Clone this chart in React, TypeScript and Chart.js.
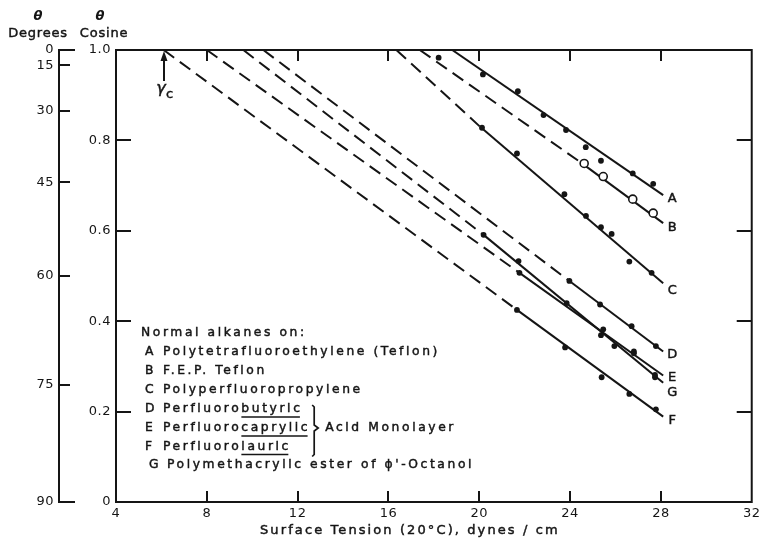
import React, { useEffect, useRef } from 'react';
import { Chart, registerables } from 'chart.js';

Chart.register(...registerables);

// ---------- axes ----------
const xTickValues = [4, 8, 12, 16, 20, 24, 28, 32];
const cosTickValues = [0, 0.2, 0.4, 0.6, 0.8, 1.0];
const degTickValues = [0, 15, 30, 45, 60, 75, 90];

// ---------- measured points (surface tension, cos θ) ----------
const ptsAx = [18.21, 20.16, 21.7, 22.83, 23.82, 24.69, 25.36, 26.76, 27.66];
const ptsAy = [0.983, 0.946, 0.909, 0.856, 0.823, 0.785, 0.755, 0.727, 0.704];
const ptsBx = [24.62, 25.46, 26.76, 27.66];
const ptsBy = [0.749, 0.72, 0.67, 0.639];
const ptsCx = [20.12, 21.66, 23.75, 24.7, 25.36, 25.83, 26.61, 27.59];
const ptsCy = [0.828, 0.771, 0.681, 0.633, 0.608, 0.593, 0.532, 0.507];
const ptsDx = [23.97, 25.32, 26.71, 27.78];
const ptsDy = [0.489, 0.437, 0.389, 0.345];
const ptsEx = [21.77, 25.36, 25.95, 26.81, 27.74];
const ptsEy = [0.507, 0.369, 0.345, 0.329, 0.281];
const ptsFx = [21.66, 23.78, 25.39, 26.61, 27.78];
const ptsFy = [0.425, 0.342, 0.276, 0.239, 0.205];
const ptsGx = [20.19, 21.73, 23.85, 25.46, 26.81, 27.74];
const ptsGy = [0.591, 0.533, 0.44, 0.382, 0.333, 0.276];

// ---------- drawn lines (first segment dashed when 3 points) ----------
const lineAx = [18.81, 28.1];
const lineAy = [1.0, 0.679];
const lineBx = [17.38, 24.45, 28.1];
const lineBy = [1.0, 0.752, 0.617];
const lineCx = [16.35, 20.04, 28.1];
const lineCy = [1.0, 0.83, 0.484];
const lineDx = [10.49, 23.97, 28.1];
const lineDy = [1.0, 0.489, 0.333];
const lineEx = [8.0, 21.77, 28.1];
const lineEy = [1.0, 0.507, 0.28];
const lineFx = [6.1, 21.66, 28.1];
const lineFy = [1.0, 0.425, 0.189];
const lineGx = [9.61, 20.19, 28.1];
const lineGy = [1.0, 0.591, 0.264];

const gammaC = 6.1;

// ---------- texts ----------
const legendTitle = 'Normal alkanes on:';
const legendLetters = ['A', 'B', 'C', 'D', 'E', 'F', 'G'];
const legendPrefix = [
  'Polytetrafluoroethylene (Teflon)',
  'F.E.P. Teflon',
  'Polyperfluoropropylene',
  'Perfluoro',
  'Perfluoro',
  'Perfluoro',
  "Polymethacrylic ester of \u03D5'-Octanol",
];
const legendSuffix = ['', '', '', 'butyric', 'caprylic', 'lauric', ''];
const bracketText = 'Acid Monolayer';
const xTitle = 'Surface Tension (20\u00B0C), dynes / cm';

// ---------- style ----------
const INK = '#151515';
const FONT = '"DejaVu Sans", "Liberation Sans", sans-serif';
const DASH = [13, 7];
const endLabelDy: Record<string, number> = { A: 4, B: 5, C: 7, D: 3, E: 2, F: 4, G: 10 };
const legendRowsY = [333, 352, 371, 390, 409, 428, 446.5, 465];

const toXY = (xs: number[], ys: number[]) => xs.map((x, i) => ({ x, y: ys[i] }));

function lineSet(xs: number[], ys: number[]) {
  const dashedFirst = xs.length > 2;
  return {
    data: toXY(xs, ys),
    showLine: true,
    borderColor: INK,
    borderWidth: 2,
    pointRadius: 0,
    pointHoverRadius: 0,
    fill: false,
    tension: 0,
    segment: {
      borderDash: (c: any) => (dashedFirst && c.p0DataIndex === 0 ? DASH : undefined),
    },
  };
}

function pointSet(xs: number[], ys: number[], open = false) {
  return {
    data: toXY(xs, ys),
    showLine: false,
    pointRadius: open ? 4 : 2.9,
    pointHoverRadius: open ? 4 : 2.9,
    pointBackgroundColor: open ? '#ffffff' : INK,
    pointBorderColor: INK,
    pointBorderWidth: open ? 1.6 : 0,
  };
}

const seriesLines: [string, number[], number[]][] = [
  ['A', lineAx, lineAy],
  ['B', lineBx, lineBy],
  ['C', lineCx, lineCy],
  ['D', lineDx, lineDy],
  ['E', lineEx, lineEy],
  ['F', lineFx, lineFy],
  ['G', lineGx, lineGy],
];

// fill + thin stroke to imitate the pen-lettering weight
function inkText(ctx: CanvasRenderingContext2D, t: string, x: number, y: number) {
  ctx.fillText(t, x, y);
  ctx.save();
  ctx.lineWidth = 0.45;
  ctx.strokeText(t, x, y);
  ctx.restore();
}

const overlay = {
  id: 'overlay',
  beforeDraw(chart: any) {
    chart.ctx.letterSpacing = '0.5px';
  },
  afterDraw(chart: any) {
    const { ctx, chartArea: ca } = chart;
    const sx = chart.scales.x;
    const sy = chart.scales.y;
    const sd = chart.scales.yDeg;
    ctx.save();
    ctx.strokeStyle = INK;
    ctx.fillStyle = INK;
    ctx.lineWidth = 2;

    // frame top & right
    ctx.beginPath();
    ctx.moveTo(ca.left - 1, ca.top);
    ctx.lineTo(ca.right, ca.top);
    ctx.lineTo(ca.right, ca.bottom + 1);
    ctx.stroke();

    // inward tick marks
    ctx.beginPath();
    xTickValues.slice(1, -1).forEach((v) => {
      const p = Math.round(sx.getPixelForValue(v));
      ctx.moveTo(p, ca.bottom);
      ctx.lineTo(p, ca.bottom - 11);
      ctx.moveTo(p, ca.top);
      ctx.lineTo(p, ca.top + 11);
    });
    cosTickValues.slice(1, -1).forEach((v) => {
      const p = Math.round(sy.getPixelForValue(v));
      ctx.moveTo(ca.left, p);
      ctx.lineTo(ca.left + 15, p);
      ctx.moveTo(ca.right, p);
      ctx.lineTo(ca.right - 15, p);
    });
    degTickValues.forEach((d, i) => {
      const p = Math.round(sd.getPixelForValue(Math.cos((d * Math.PI) / 180)));
      const L = i === 0 || i === degTickValues.length - 1 ? 16 : 11;
      ctx.moveTo(sd.right, p);
      ctx.lineTo(sd.right + L, p);
    });
    ctx.stroke();

    // headers
    ctx.textAlign = 'center';
    ctx.textBaseline = 'middle';
    ctx.letterSpacing = '0px';
    ctx.font = `italic bold 13px ${FONT}`;
    ctx.fillText('\u03B8', 38, 17);
    ctx.fillText('\u03B8', 100, 17);
    ctx.letterSpacing = '0.8px';
    ctx.font = `13px ${FONT}`;
    inkText(ctx, 'Degrees', 38, 34);
    inkText(ctx, 'Cosine', 104, 34);

    // x title
    ctx.textAlign = 'left';
    ctx.letterSpacing = '2.1px';
    ctx.font = `13px ${FONT}`;
    inkText(ctx, xTitle, 260, 531);

    // gamma c arrow
    const gx = Math.round(sx.getPixelForValue(gammaC));
    ctx.beginPath();
    ctx.moveTo(gx, ca.top + 31);
    ctx.lineTo(gx, ca.top + 8);
    ctx.stroke();
    ctx.beginPath();
    ctx.moveTo(gx, ca.top + 1);
    ctx.lineTo(gx - 3.5, ca.top + 11);
    ctx.lineTo(gx + 3.5, ca.top + 11);
    ctx.closePath();
    ctx.fill();
    ctx.letterSpacing = '0px';
    ctx.textBaseline = 'alphabetic';
    ctx.textAlign = 'center';
    ctx.font = `italic 16px ${FONT}`;
    inkText(ctx, '\u03B3', gx - 3, ca.top + 43);
    ctx.font = `13px ${FONT}`;
    ctx.textAlign = 'left';
    inkText(ctx, 'c', gx + 2, ca.top + 48);

    // end labels
    ctx.textAlign = 'center';
    ctx.textBaseline = 'middle';
    ctx.font = `13px ${FONT}`;
    seriesLines.forEach(([name, xs, ys]) => {
      const ex = sx.getPixelForValue(xs[xs.length - 1]);
      const ey = sy.getPixelForValue(ys[ys.length - 1]);
      inkText(ctx, name, ex + 9, ey + endLabelDy[name]);
    });

    // legend block
    const sp = 2.6;
    ctx.font = `12.3px ${FONT}`;
    ctx.textAlign = 'left';
    ctx.letterSpacing = sp + 'px';
    inkText(ctx, legendTitle, 141, legendRowsY[0]);
    let maxEnd = 0;
    legendLetters.forEach((L, i) => {
      const y = legendRowsY[i + 1];
      const shift = L === 'G' ? 4 : 0;
      inkText(ctx, L, 145 + shift, y);
      const tx = 163 + shift;
      inkText(ctx, legendPrefix[i], tx, y);
      const w1 = ctx.measureText(legendPrefix[i]).width;
      if (legendSuffix[i]) {
        inkText(ctx, legendSuffix[i], tx + w1, y);
        const w2 = ctx.measureText(legendSuffix[i]).width;
        ctx.lineWidth = 1.7;
        ctx.beginPath();
        ctx.moveTo(tx + w1, y + 8);
        ctx.lineTo(tx + w1 + w2 - sp, y + 8);
        ctx.stroke();
        maxEnd = Math.max(maxEnd, tx + w1 + w2);
      }
    });
    // brace
    const bx = maxEnd + 4;
    const yTop = legendRowsY[4] - 4;
    const yMid = legendRowsY[5];
    const yBot = legendRowsY[6] + 10;
    ctx.lineWidth = 1.7;
    ctx.beginPath();
    ctx.moveTo(bx - 2, yTop);
    ctx.lineTo(bx, yTop + 2);
    ctx.lineTo(bx, yMid - 3);
    ctx.lineTo(bx + 4, yMid);
    ctx.lineTo(bx, yMid + 3);
    ctx.lineTo(bx, yBot - 2);
    ctx.lineTo(bx - 2, yBot);
    ctx.stroke();
    inkText(ctx, bracketText, bx + 11, yMid);

    ctx.restore();
  },
};

export default function App() {
  const ref = useRef<HTMLCanvasElement>(null);
  useEffect(() => {
    if (!ref.current) return;
    const tickFont = { family: FONT, size: 13 };
    const chart = new Chart(ref.current, {
      type: 'scatter',
      data: {
        datasets: [
          pointSet(ptsBx, ptsBy, true),
          pointSet(ptsAx, ptsAy),
          pointSet(ptsCx, ptsCy),
          pointSet(ptsDx, ptsDy),
          pointSet(ptsEx, ptsEy),
          pointSet(ptsFx, ptsFy),
          pointSet(ptsGx, ptsGy),
          ...seriesLines.map(([, xs, ys]) => lineSet(xs, ys)),
        ] as any,
      },
      options: {
        responsive: false,
        animation: false,
        devicePixelRatio: 1,
        layout: { padding: { top: 50, right: 10, left: 0, bottom: 0 } },
        plugins: { legend: { display: false }, tooltip: { enabled: false } },
        events: [],
        scales: {
          x: {
            type: 'linear',
            min: xTickValues[0],
            max: xTickValues[xTickValues.length - 1],
            afterBuildTicks: (s: any) => {
              s.ticks = xTickValues.map((v) => ({ value: v }));
            },
            ticks: { font: tickFont, color: INK, padding: 4, autoSkip: false, maxRotation: 0 },
            grid: { display: false, drawTicks: false },
            border: { display: true, width: 2, color: INK },
            afterFit: (s: any) => {
              s.height = 40;
            },
          },
          y: {
            type: 'linear',
            position: 'left',
            weight: 0,
            min: 0,
            max: 1,
            afterBuildTicks: (s: any) => {
              s.ticks = cosTickValues.map((v) => ({ value: v }));
            },
            ticks: {
              font: tickFont,
              color: INK,
              padding: 5,
              autoSkip: false,
              callback: (v: any) => (v === 0 ? '0' : Number(v).toFixed(1)),
            },
            grid: { display: false, drawTicks: false },
            border: { display: true, width: 2, color: INK },
            afterFit: (s: any) => {
              s.width = 57;
            },
          },
          yDeg: {
            type: 'linear',
            position: 'left',
            weight: 1,
            min: 0,
            max: 1,
            afterBuildTicks: (s: any) => {
              s.ticks = degTickValues.map((d) => ({ value: Math.cos((d * Math.PI) / 180) }));
            },
            ticks: {
              font: tickFont,
              color: INK,
              padding: 5,
              autoSkip: false,
              callback: (_v: any, i: number) => String(degTickValues[i]),
            },
            grid: { display: false, drawTicks: false },
            border: { display: true, width: 2, color: INK },
            afterFit: (s: any) => {
              s.width = 59;
            },
          },
        },
      } as any,
      plugins: [overlay],
    });
    return () => chart.destroy();
  }, []);
  return (
    <div style={{ position: 'absolute', left: 0, top: 0, width: 764, height: 542, background: '#fff' }}>
      <canvas ref={ref} width={764} height={542} style={{ display: 'block' }} />
    </div>
  );
}
